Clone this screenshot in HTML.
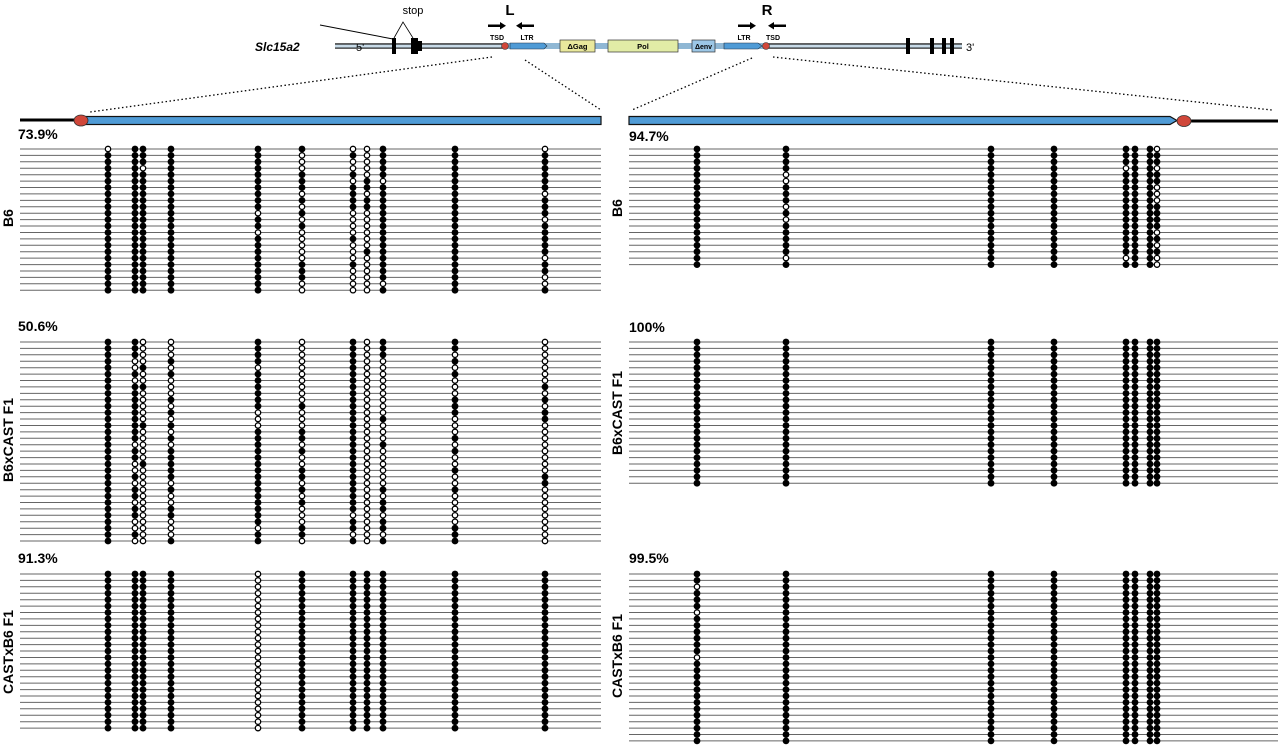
<!DOCTYPE html>
<html><head><meta charset="utf-8"><style>
html,body{margin:0;padding:0;background:#fff;}
svg{display:block;font-family:"Liberation Sans",sans-serif;}
</style></head><body>
<svg id="s" width="1280" height="746" viewBox="0 0 1280 746" xmlns="http://www.w3.org/2000/svg">
<line x1="335" y1="44" x2="505" y2="44" stroke="#000" stroke-width="1.2"/>
<line x1="335" y1="48" x2="505" y2="48" stroke="#000" stroke-width="1.2"/>
<rect x="335" y="44.6" width="170" height="3" fill="#c8dbe8"/>
<rect x="505" y="43" width="262" height="6" fill="#8fb7d4"/>
<line x1="767" y1="44" x2="962" y2="44" stroke="#000" stroke-width="1.2"/>
<line x1="767" y1="48" x2="962" y2="48" stroke="#000" stroke-width="1.2"/>
<rect x="767" y="44.6" width="195" height="3" fill="#c8dbe8"/>
<rect x="392" y="38" width="4" height="16" fill="#000"/>
<rect x="411" y="38" width="7" height="16" fill="#000"/>
<rect x="417" y="41" width="5" height="10" fill="#000"/>
<line x1="320" y1="25" x2="393" y2="39" stroke="#000" stroke-width="1"/>
<polyline points="394,38 403,22 413,38" fill="none" stroke="#000" stroke-width="0.8"/>
<text x="413" y="14" font-size="11" text-anchor="middle">stop</text>
<text x="255" y="51" font-size="12" font-weight="bold" font-style="italic">Slc15a2</text>
<text x="356" y="51" font-size="11">5'</text>
<text x="966" y="51" font-size="11">3'</text>
<rect x="906" y="38" width="4" height="16" fill="#000"/>
<rect x="930" y="38" width="4" height="16" fill="#000"/>
<rect x="942" y="38" width="4" height="16" fill="#000"/>
<rect x="950" y="38" width="4" height="16" fill="#000"/>
<text x="510" y="15" font-size="15" font-weight="bold" text-anchor="middle">L</text>
<text x="767" y="15" font-size="15" font-weight="bold" text-anchor="middle">R</text>
<g fill="#000">
<rect x="488" y="24.5" width="12" height="2.5"/><polygon points="500,22 506,25.75 500,29.5"/>
<rect x="522" y="24.5" width="12" height="2.5"/><polygon points="522,22 516,25.75 522,29.5"/>
<rect x="738" y="24.5" width="12" height="2.5"/><polygon points="750,22 756,25.75 750,29.5"/>
<rect x="774" y="24.5" width="12" height="2.5"/><polygon points="774,22 768,25.75 774,29.5"/>
</g>
<text x="497" y="40" font-size="7" font-weight="bold" text-anchor="middle">TSD</text>
<text x="527" y="40" font-size="7" font-weight="bold" text-anchor="middle">LTR</text>
<text x="744" y="40" font-size="7" font-weight="bold" text-anchor="middle">LTR</text>
<text x="773" y="40" font-size="7" font-weight="bold" text-anchor="middle">TSD</text>
<path d="M510,43 H544 L547,46 L544,49 H510 Z" fill="#4f9bd6" stroke="#234" stroke-width="0.6"/>
<path d="M724,43 H758 L762,46 L758,49 H724 Z" fill="#4f9bd6" stroke="#234" stroke-width="0.6"/>
<circle cx="505" cy="46" r="3.5" fill="#d0473a" stroke="#333" stroke-width="0.6"/>
<circle cx="766" cy="46" r="3.5" fill="#d0473a" stroke="#333" stroke-width="0.6"/>
<rect x="560" y="40" width="35" height="12" fill="#e9e89c" stroke="#333" stroke-width="0.7"/>
<text x="577.5" y="49" font-size="7.5" font-weight="bold" text-anchor="middle">ΔGag</text>
<rect x="608" y="40" width="70" height="12" fill="#e2eca6" stroke="#333" stroke-width="0.7"/>
<text x="643" y="49" font-size="7.5" font-weight="bold" text-anchor="middle">Pol</text>
<rect x="692" y="40" width="23" height="12" fill="#9cc7e6" stroke="#333" stroke-width="0.7"/>
<text x="703.5" y="49" font-size="7" font-weight="bold" text-anchor="middle">Δenv</text>
<g stroke="#000" stroke-width="1.3" stroke-dasharray="1.5,2.5" fill="none">
<line x1="492" y1="57" x2="90" y2="112"/>
<line x1="525" y1="60" x2="601" y2="110"/>
<line x1="752" y1="58" x2="632" y2="110"/>
<line x1="773" y1="57" x2="1272" y2="110"/>
</g>
<line x1="20" y1="120" x2="76" y2="120" stroke="#000" stroke-width="3"/>
<rect x="85" y="116.5" width="516" height="8" fill="#4f9bd6" stroke="#111" stroke-width="1.2"/>
<ellipse cx="81" cy="120.5" rx="7" ry="5.5" fill="#d0473a" stroke="#333" stroke-width="0.8"/>
<path d="M629,116.5 H1170 L1177,120.5 L1170,124.5 H629 Z" fill="#4f9bd6" stroke="#111" stroke-width="1.2"/>
<line x1="1190" y1="121" x2="1278" y2="121" stroke="#000" stroke-width="3"/>
<ellipse cx="1184" cy="121" rx="7" ry="5.5" fill="#d0473a" stroke="#333" stroke-width="0.8"/>
<g font-size="14" font-weight="bold">
<text x="18" y="139">73.9%</text>
<text x="629" y="141">94.7%</text>
<text x="18" y="331">50.6%</text>
<text x="629" y="332">100%</text>
<text x="18" y="563">91.3%</text>
<text x="629" y="563">99.5%</text>
</g>
<g font-size="14" font-weight="bold" text-anchor="middle">
<text transform="translate(13,218) rotate(-90)">B6</text>
<text transform="translate(13,440) rotate(-90)">B6xCAST F1</text>
<text transform="translate(13,652) rotate(-90)">CASTxB6 F1</text>
<text transform="translate(622,208) rotate(-90)">B6</text>
<text transform="translate(622,413) rotate(-90)">B6xCAST F1</text>
<text transform="translate(622,656) rotate(-90)">CASTxB6 F1</text>
</g>
<g id="g"></g>
</svg>
<script>
(function(){
var g=document.getElementById('g'),out='';
var seed=7;function rnd(){seed=(seed*16807)%2147483647;return seed/2147483647;}
var L=[108,135,143,171,258,302,353,367,383,455,545];
var R=[697,786,991,1054,1126,1135,1150,1157];
var panels=[
 {x1:20,x2:601,y:149,n:23,cols:L,p:[.05,0,.1,0,.05,.6,.8,.8,.05,0,.15]},
 {x1:20,x2:601,y:342,n:32,cols:L,p:[0,.4,.8,.7,.1,.6,.1,.95,.6,.7,.7]},
 {x1:20,x2:601,y:574,n:25,cols:L,p:[0,0,0,0,1,0,0,0,0,0,0]},
 {x1:629,x2:1278,y:149,n:19,cols:R,p:[0,.05,0,0,.05,0,.1,.35]},
 {x1:629,x2:1278,y:342,n:23,cols:R,p:[0,0,0,0,0,0,0,0]},
 {x1:629,x2:1278,y:574,n:27,cols:R,p:[.04,0,0,0,0,0,0,0]}
];
var sp=6.42;
panels.forEach(function(P){
 for(var i=0;i<P.n;i++){var y=(P.y+i*sp).toFixed(1);
  out+='<line x1="'+P.x1+'" y1="'+y+'" x2="'+P.x2+'" y2="'+y+'" stroke="#666" stroke-width="1"/>';}
 P.cols.forEach(function(cx,j){
  for(var i=0;i<P.n;i++){var y=(P.y+i*sp).toFixed(1);var open=rnd()<P.p[j];
   out+='<circle cx="'+cx+'" cy="'+y+'" r="'+(open?2.7:3.4)+'" fill="'+(open?'#fff':'#000')+'" stroke="#000" stroke-width="'+(open?1.3:0)+'"/>';}
 });
});
g.innerHTML=out;
})();
</script>
</body></html>
